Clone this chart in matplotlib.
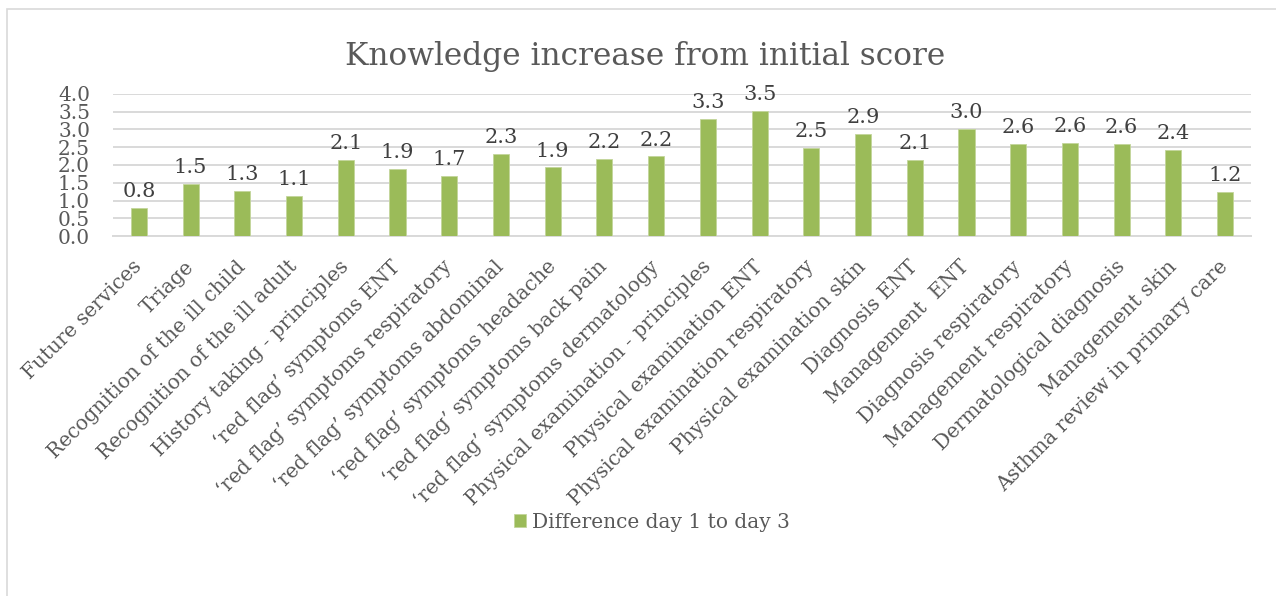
# Knowledge increase bar chart
import matplotlib
matplotlib.use('Agg')
import matplotlib.pyplot as plt
from matplotlib.patches import Rectangle

categories = [
    'Future services', 'Triage', 'Recognition of the ill child',
    'Recognition of the ill adult', 'History taking - principles',
    '\u2018red flag\u2019 symptoms ENT', '\u2018red flag\u2019 symptoms respiratory',
    '\u2018red flag\u2019 symptoms abdominal', '\u2018red flag\u2019 symptoms headache',
    '\u2018red flag\u2019 symptoms back pain', '\u2018red flag\u2019 symptoms dermatology',
    'Physical examination - principles', 'Physical examination ENT',
    'Physical examination respiratory', 'Physical examination skin',
    'Diagnosis ENT', 'Management  ENT', 'Diagnosis respiratory',
    'Management respiratory', 'Dermatological diagnosis', 'Management skin',
    'Asthma review in primary care',
]
difference = [0.80, 1.47, 1.26, 1.12, 2.13, 1.88, 1.69, 2.31, 1.93, 2.17, 2.24,
              3.29, 3.53, 2.48, 2.88, 2.13, 3.01, 2.60, 2.61, 2.60, 2.43, 1.23]
yticks = [0.0, 0.5, 1.0, 1.5, 2.0, 2.5, 3.0, 3.5, 4.0]
series_name = 'Difference day 1 to day 3'

plt.rcParams['font.family'] = ['DejaVu Serif']
text_grey = '#595959'
bar_green = '#9BBB59'
grid_grey = '#D9D9D9'

fig = plt.figure(figsize=(12.76, 5.96), dpi=100)
ax = fig.add_axes([113 / 1276, 1 - 236 / 596, (1251 - 113) / 1276, (236 - 94) / 596])

x = list(range(len(categories)))
bars = ax.bar(x, difference, width=0.31, color=bar_green, edgecolor='#C3D69B',
              linewidth=0.6, label=series_name, zorder=3)

for xi, v in zip(x, difference):
    ax.annotate(f'{v:.1f}', (xi, v), xytext=(0, 5), textcoords='offset points',
                ha='center', va='bottom', fontsize=15, color='#404040')

ax.set_xlim(-0.5, len(categories) - 0.5)
ax.set_ylim(0, 4.0)
ax.set_yticks(yticks)
ax.set_yticklabels([f'{t:.1f}' for t in yticks], fontsize=14.5, color=text_grey)
ax.yaxis.grid(True, color=grid_grey, linewidth=1.4, zorder=0)
ax.tick_params(axis='y', length=0, pad=16.5)
ax.tick_params(axis='x', length=0, pad=20)
ax.set_xticks(x)
ax.set_xticklabels(categories, rotation=45, ha='right', va='center',
                   rotation_mode='anchor', fontsize=14.5, color=text_grey)
for side in ['top', 'right', 'left']:
    ax.spines[side].set_visible(False)
ax.spines['bottom'].set_color(grid_grey)
ax.spines['bottom'].set_linewidth(1.4)

fig.text(645 / 1276, 1 - 56 / 596, 'Knowledge increase from initial score',
         ha='center', va='center', fontsize=22.5, color=text_grey)

fig.legend(handles=[bars], labels=[series_name], loc='center',
           bbox_to_anchor=(652 / 1276, 1 - 522 / 596), frameon=False,
           fontsize=14.5, labelcolor=text_grey, handlelength=0.6, handleheight=0.6,
           handletextpad=0.3)

# outer chart border
fig.patches.append(Rectangle((7 / 1276, -0.1), 1.2, 1 - 9 / 596 + 0.1,
                             transform=fig.transFigure, fill=False,
                             edgecolor='#D9D9D9', linewidth=1.2))

fig.savefig('out.png', dpi=100)
